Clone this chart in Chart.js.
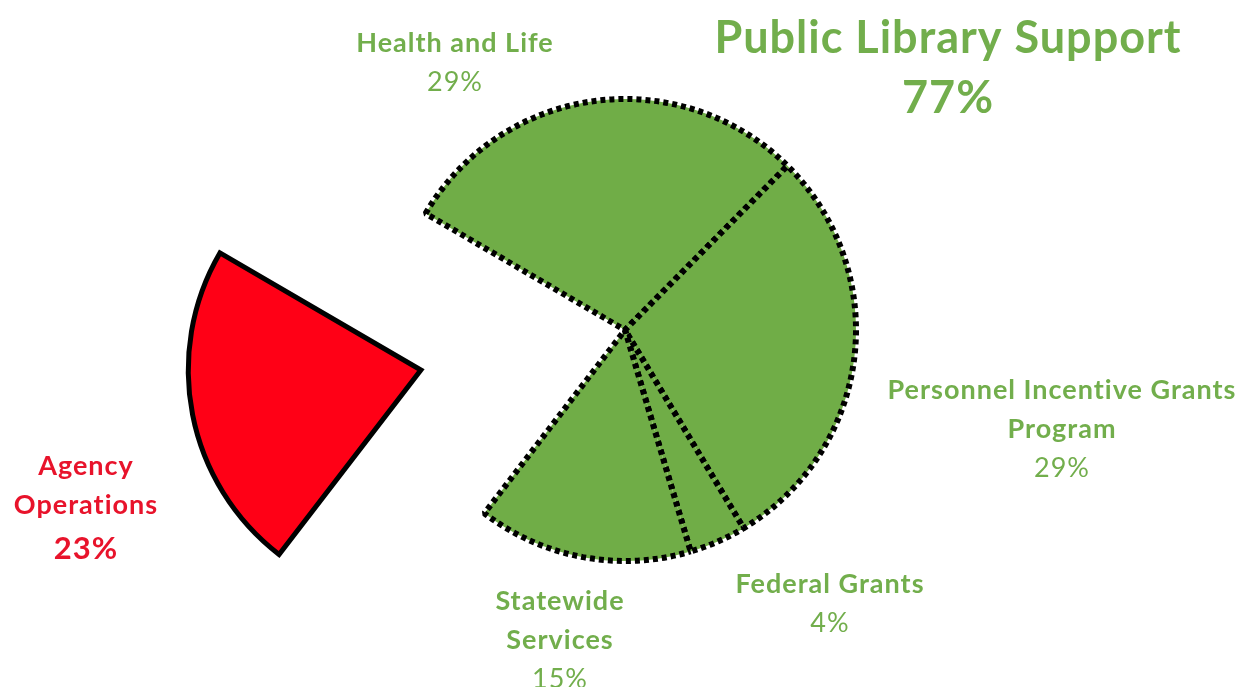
<!DOCTYPE html>
<html>
<head>
<meta charset="utf-8">
<script src="https://cdn.jsdelivr.net/npm/chart.js@4"></script>
<style>
  html, body { margin: 0; padding: 0; background: #fff; }
  #wrap { width: 1259px; height: 687px; position: relative; }
</style>
</head>
<body>
<div id="wrap"><canvas id="budgetPie"></canvas></div>
<script>
// slice data, clockwise starting from Health and Life
const categories = ['Health and Life', 'Personnel Incentive Grants Program', 'Federal Grants', 'Statewide Services', 'Agency Operations'];
const shares = [29, 29, 4, 15, 23];
const sliceColors = ['#70AD47', '#70AD47', '#70AD47', '#70AD47', '#FF0016'];
const explodeAmount = [0, 0, 0, 0, 832];

// label lines shown next to each slice
const labelLines = [
    ['Health and Life'],
    ['Personnel Incentive Grants', 'Program'],
    ['Federal Grants'],
    ['Statewide', 'Services'],
    ['Agency', 'Operations']
];
const groupTitle = 'Public Library Support';
const groupShare = 77;

const GREEN_TEXT = '#72AE4C';
const RED_TEXT = '#E8132B';
const FONT = 'Lato, "Open Sans", sans-serif';
const PIE_RADIUS = 231;
const DOTS = [5, 4];

// where each label block sits (center x, first line y)
const labelPlace = [
    { x: 455, y: 43 },
    { x: 1062, y: 390 },
    { x: 830, y: 584 },
    { x: 560, y: 601 },
    { x: 86, y: 466 }
];

// line up the dot pattern on the edges that two green slices share,
// otherwise the two borders interleave and the line looks solid
function dotPhase(index) {
    const total = shares.reduce((a, b) => a + b, 0);
    const period = DOTS[0] + DOTS[1];
    const arcLen = shares.map(v => PIE_RADIUS * v / total * 2 * Math.PI);
    let o = 0;
    for (let i = 0; i < index; i++) {
        o = DOTS[0] - arcLen[i] - o - arcLen[i + 1] - 2 * PIE_RADIUS;
        o = ((o % period) + period) % period;
    }
    return o;
}

const sliceLabels = {
    id: 'sliceLabels',
    afterDraw(chart) {
        const ctx = chart.ctx;
        ctx.save();
        ctx.textAlign = 'center';
        ctx.textBaseline = 'middle';
        ctx.letterSpacing = '1px';

        labelLines.forEach((lines, i) => {
            const pos = labelPlace[i];
            const isRed = i === 4;
            ctx.fillStyle = isRed ? RED_TEXT : GREEN_TEXT;
            let y = pos.y;
            lines.forEach(line => {
                ctx.font = `bold 27px ${FONT}`;
                ctx.fillText(line, pos.x, y);
                y += 39;
            });
            if (isRed) {
                ctx.font = `bold 31px ${FONT}`;
                ctx.fillText(shares[i] + '%', pos.x, y + 5);
            } else {
                ctx.font = `27px ${FONT}`;
                ctx.fillText(shares[i] + '%', pos.x, y);
            }
        });

        // group heading for the green slices
        ctx.fillStyle = GREEN_TEXT;
        ctx.font = `bold 45px ${FONT}`;
        ctx.fillText(groupTitle, 948, 38);
        ctx.fillText(groupShare + '%', 948, 98);
        ctx.restore();
    }
};

const ctx = document.getElementById('budgetPie').getContext('2d');
new Chart(ctx, {
    type: 'pie',
    data: {
        labels: categories,
        datasets: [{
            data: shares,
            backgroundColor: sliceColors,
            borderColor: '#000000',
            borderWidth: c => (c.dataIndex === 4 ? 5 : 6),
            borderDash: c => (c.dataIndex === 4 ? [] : DOTS),
            borderDashOffset: c => (c.dataIndex === 4 ? 0 : dotPhase(c.dataIndex)),
            borderJoinStyle: c => (c.dataIndex === 4 ? 'miter' : 'bevel'),
            offset: explodeAmount
        }]
    },
    options: {
        responsive: true,
        maintainAspectRatio: false,
        animation: false,
        cutout: '0%',
        rotation: -59.7,
        radius: PIE_RADIUS,
        layout: { padding: { left: 0, right: 9, top: 0, bottom: 27 } },
        plugins: {
            legend: { display: false },
            tooltip: { enabled: false }
        }
    },
    plugins: [sliceLabels]
});
</script>
</body>
</html>
